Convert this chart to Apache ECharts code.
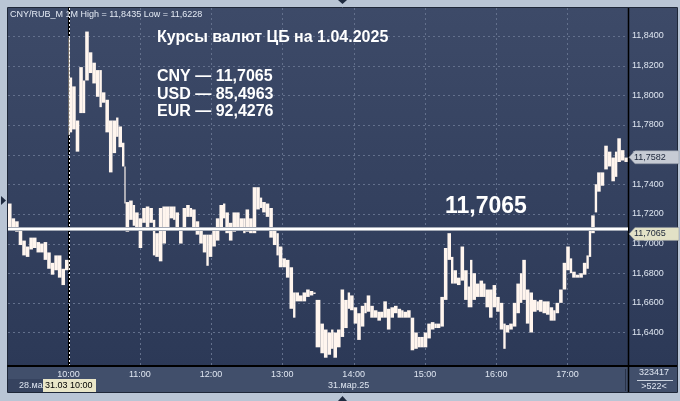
<!DOCTYPE html>
<html><head><meta charset="utf-8">
<script src="https://cdn.jsdelivr.net/npm/echarts@6/dist/echarts.min.js"></script>
<style>html,body{margin:0;padding:0;background:#b9c5d5;}#c{width:680px;height:401px;}</style>
</head><body><div id="c"></div>
<script>
// bucket start, minutes from 31.03 10:00 (negative = 28.03 session tail)
const minutes = [-51,-48,-45,-42,-39,-36,-33,-30,-27,-24,-21,-18,-15,-12,-9,-6,-3,
0,1,3,6,9,12,14,17,20,23,26,28,31,34,37,40,42,45,47,48,51,54,56,59,62,65,68,71,73,76,
79,82,85,88,90,93,96,99,102,104,107,110,113,116,118,121,124,127,130,132,135,138,141,144,147,149,152,155,158,161,163,166,169,172,175,177,180,183,186,189,191,194,197,200,203,206,208,
212,215,218,221,223,226,229,232,235,237,240,243,246,249,251,254,257,260,263,265,268,271,274,277,280,282,285,288,291,294,296,299,302,305,308,310,313,316,319,322,324,327,330,333,336,338,
340,343,346,349,351,354,357,360,363,366,368,371,374,377,380,382,385,388,391,394,396,399,402,405,408,410,413,416,419,422,424,427,430,433,436,438,440,443,445,448,451,454,457,460,462,465,468];
const highs = [11.727,11.717,11.715,11.711,11.702,11.698,11.704,11.704,11.701,11.700,11.701,11.694,11.687,11.692,11.692,11.683,11.689,
11.839,11.812,11.806,11.783,11.819,11.810,11.843,11.829,11.822,11.817,11.817,11.802,11.797,11.783,11.783,11.785,11.779,11.768,11.752,11.728,11.729,11.726,11.721,11.717,11.724,11.725,11.724,11.716,11.707,11.724,
11.725,11.725,11.725,11.725,11.721,11.710,11.724,11.726,11.724,11.723,11.715,11.710,11.706,11.706,11.706,11.709,11.717,11.726,11.727,11.721,11.714,11.721,11.721,11.717,11.717,11.723,11.717,11.738,11.738,11.731,11.728,11.727,11.724,11.710,11.707,11.698,11.690,11.689,11.684,11.667,11.667,11.665,11.667,11.669,11.668,11.667,11.662,
11.646,11.642,11.640,11.642,11.640,11.642,11.669,11.662,11.667,11.665,11.657,11.653,11.658,11.660,11.665,11.658,11.655,11.654,11.654,11.661,11.656,11.657,11.658,11.656,11.655,11.654,11.655,11.650,11.640,11.637,11.637,11.640,11.646,11.647,11.646,11.646,11.664,11.697,11.707,11.691,11.682,11.677,11.698,11.682,11.671,11.689,
11.680,11.673,11.675,11.673,11.669,11.669,11.672,11.664,11.660,11.646,11.645,11.646,11.660,11.673,11.680,11.689,11.669,11.667,11.662,11.661,11.662,11.661,11.661,11.657,11.655,11.660,11.669,11.687,11.698,11.690,11.681,11.679,11.680,11.687,11.692,11.709,11.719,11.740,11.748,11.748,11.766,11.762,11.758,11.762,11.771,11.763,11.758];
const lows = [11.711,11.710,11.708,11.699,11.692,11.691,11.696,11.697,11.694,11.694,11.689,11.683,11.679,11.682,11.677,11.672,11.682,
11.773,11.775,11.777,11.762,11.788,11.788,11.810,11.815,11.808,11.799,11.792,11.795,11.775,11.748,11.761,11.772,11.765,11.752,11.727,11.708,11.716,11.712,11.711,11.697,11.714,11.711,11.714,11.692,11.691,11.688,
11.700,11.709,11.717,11.716,11.709,11.700,11.710,11.718,11.718,11.711,11.706,11.700,11.694,11.685,11.691,11.698,11.702,11.711,11.717,11.707,11.702,11.708,11.711,11.710,11.707,11.708,11.707,11.707,11.723,11.724,11.721,11.718,11.704,11.699,11.692,11.684,11.684,11.677,11.656,11.650,11.661,11.661,11.661,11.664,11.665,11.666,11.630,
11.626,11.623,11.625,11.629,11.623,11.630,11.637,11.643,11.656,11.655,11.646,11.635,11.644,11.653,11.654,11.650,11.650,11.648,11.650,11.650,11.642,11.650,11.653,11.650,11.650,11.650,11.650,11.628,11.629,11.630,11.630,11.630,11.636,11.642,11.643,11.643,11.644,11.662,11.689,11.673,11.673,11.672,11.675,11.662,11.657,11.657,
11.662,11.664,11.664,11.664,11.657,11.650,11.657,11.654,11.642,11.629,11.640,11.642,11.644,11.653,11.660,11.662,11.646,11.640,11.654,11.655,11.654,11.653,11.652,11.648,11.648,11.653,11.660,11.669,11.682,11.680,11.677,11.677,11.677,11.679,11.683,11.691,11.707,11.721,11.735,11.739,11.750,11.752,11.742,11.745,11.755,11.756,11.755];
const endMinute = 471;
const hourTicks = [0,60,120,180,240,300,360,420];
const hourLabels = ['10:00','11:00','12:00','13:00','14:00','15:00','16:00','17:00'];
const priceTicks = [11.64,11.66,11.68,11.70,11.72,11.74,11.76,11.78,11.80,11.82,11.84];
const cbRate = 11.7065;
const lastPrice = 11.7582;
const dayHigh = 11.8435, dayLow = 11.6228;
const titleText = 'Курсы валют ЦБ на 1.04.2025';
const rateLines = ['CNY — 11,7065','USD — 85,4963','EUR — 92,4276'];

const fmt = v => v.toFixed(4).replace('.', ',');
const FONT = '"Liberation Sans", Arial, sans-serif';

const bars = minutes.map((m,i) => [m, i < minutes.length-1 ? minutes[i+1] : endMinute, lows[i], highs[i]]);

const chart = echarts.init(document.getElementById('c'), null, {renderer:'canvas'});
chart.setOption({
  animation:false,
  backgroundColor:'#b9c5d5',
  grid:{left:8, top:8, width:620, height:358, containLabel:false},
  xAxis:{type:'value', min:-51, max:endMinute,
    axisLine:{show:true, lineStyle:{color:'#000', width:2}},
    axisTick:{show:false}, splitLine:{show:false},
    axisLabel:{customValues:hourTicks, formatter:v => hourLabels[hourTicks.indexOf(v)] || '',
      color:'#dfe6f1', fontSize:9, fontFamily:FONT, margin:4}},
  yAxis:{type:'value', position:'right', min:11.617403, max:11.858887, scale:true,
    axisLine:{show:true, lineStyle:{color:'#000', width:2}},
    axisTick:{show:false}, splitLine:{show:false},
    axisLabel:{customValues:priceTicks, formatter:v => fmt(v),
      color:'#dfe6f1', fontSize:9, fontFamily:FONT, margin:4}},
  series:[
    {type:'custom', z:35, data:bars, encode:{x:[0,1], y:[2,3]},
      renderItem:(params, api) => {
        const p0 = api.coord([api.value(0), api.value(3)]);
        const p1 = api.coord([api.value(1), api.value(2)]);
        return {type:'rect', shape:{x:p0[0], y:p0[1], width:Math.max(p1[0]-p0[0],1), height:Math.max(p1[1]-p0[1],1.5)},
          style:{fill:'#fff5ee'}};
      },
      markLine:{silent:true, symbol:'none', z:45, animation:false, label:{show:false},
        data:[{yAxis:cbRate, lineStyle:{color:'#a3a9b5', width:4, type:'solid'}},
              {yAxis:cbRate, lineStyle:{color:'#ffffff', width:2, type:'solid'}}]}}
  ]
});

const px = (x, y) => chart.convertToPixel({gridIndex:0}, [x, y]);
const yRate = px(0, cbRate)[1];
const yLast = px(0, lastPrice)[1];
const yTop = px(0, 11.858887)[1], yBot = px(0, 11.617403)[1];
const xL = px(-51, 11.7)[0], xR = px(endMinute, 11.7)[0];
const GRID = '#63708c';
const gridLines = [];
priceTicks.forEach(v => {
  const y = Math.round(px(0, v)[1]) + 0.5;
  gridLines.push({type:'line', z:30, silent:true, shape:{x1:xL, y1:y, x2:xR, y2:y}, style:{stroke:GRID, lineWidth:1, lineDash:[2,3]}});
});
hourTicks.forEach((v, i) => {
  const x = Math.round(px(v, 11.7)[0]) + 0.5;
  gridLines.push({type:'line', z:i === 0 ? 36 : 30, silent:true, shape:{x1:x, y1:yTop, x2:x, y2:yBot},
    style: i === 0 ? {stroke:'#ffffff', lineWidth:1, lineDash:[2,2]} : {stroke:GRID, lineWidth:1, lineDash:[2,3]}});
});

const grad = () => new echarts.graphic.LinearGradient(0,0,0,1,[{offset:0,color:'#3d4a68'},{offset:1,color:'#2c3957'}]);
function tag(y, t, fill){
  return [
    {type:'polygon', z:50, shape:{points:[[629,y],[635,y-6.5],[679,y-6.5],[679,y+6.5],[635,y+6.5]]},
      style:{fill:fill, stroke:'#8a909c', lineWidth:0.5}},
    {type:'text', z:51, style:{text:t, x:634, y:y, fill:'#1a2438', font:'9px '+FONT, verticalAlign:'middle', textVerticalAlign:'middle'}}
  ];
}
function txt(t, x, y, font, fill, align, z){
  return {type:'text', z:z||60, style:{text:t, x:x, y:y, font:font, fill:fill||'#ffffff',
    align:align||'left', textAlign:align||'left', verticalAlign:'middle', textVerticalAlign:'middle'}};
}
chart.setOption({graphic:[
  {type:'rect', z:-10, shape:{x:8,y:8,width:620,height:358}, style:{fill:grad()}},
  {type:'rect', z:-10, shape:{x:629,y:8,width:48,height:358}, style:{fill:grad()}},
  {type:'rect', z:-10, shape:{x:8,y:367,width:669,height:25}, style:{fill:'#414f6b'}},
  {type:'rect', z:-9, shape:{x:8,y:379,width:62,height:13}, style:{fill:'#36435f'}},
  {type:'rect', z:-8, shape:{x:7.5,y:7.5,width:670,height:385}, style:{fill:'none', stroke:'#1e2738', lineWidth:1}},
  ...gridLines,
  {type:'line', z:40, shape:{x1:8,y1:366,x2:677,y2:366}, style:{stroke:'#000', lineWidth:2}},
  {type:'line', z:40, shape:{x1:628.5,y1:8,x2:628.5,y2:392}, style:{stroke:'#000', lineWidth:1.5}},
  {type:'line', z:40, shape:{x1:625.5,y1:369,x2:625.5,y2:391}, style:{stroke:'#283248', lineWidth:1}},
  {type:'polygon', z:40, shape:{points:[[1,196],[6,200.5],[1,205]]}, style:{fill:'#1f2b40'}},
  {type:'polygon', z:40, shape:{points:[[338,0],[347,0],[342.5,4]]}, style:{fill:'#1f2b40'}},
  {type:'polygon', z:40, shape:{points:[[338,401],[347,401],[342.5,396]]}, style:{fill:'#1f2b40'}},
  txt('CNY/RUB_M 1M High = '+fmt(dayHigh)+' Low = '+fmt(dayLow), 10, 15, '9px '+FONT, '#e4eaf4'),
  txt(titleText, 157, 38, 'bold 16px '+FONT),
  txt(rateLines[0], 157, 77, 'bold 16px '+FONT),
  txt(rateLines[1], 157, 95, 'bold 16px '+FONT),
  txt(rateLines[2], 157, 112, 'bold 16px '+FONT),
  txt(fmt(cbRate).slice(0,7), 445, 207, 'bold 23px '+FONT),
  txt('28.мар.25', 19, 386, '9px '+FONT, '#dfe6f1'),
  {type:'rect', z:61, shape:{x:43,y:379,width:53,height:13}, style:{fill:'#e9e6c8'}},
  txt('31.03 10:00', 45, 386, '9px '+FONT, '#000000', 'left', 62),
  txt('31.мар.25', 328, 386, '9px '+FONT, '#dfe6f1'),
  txt('323417', 654, 373, '9px '+FONT, '#dfe6f1', 'center'),
  {type:'line', z:60, shape:{x1:637,y1:380.5,x2:673,y2:380.5}, style:{stroke:'#c8d0dc', lineWidth:1}},
  txt('>522<', 654, 387, '9px '+FONT, '#dfe6f1', 'center'),
  ...tag(yLast, fmt(lastPrice), '#c6cbd4'),
  ...tag(yRate, fmt(cbRate), '#e2e1c6')
]});
</script></body></html>
